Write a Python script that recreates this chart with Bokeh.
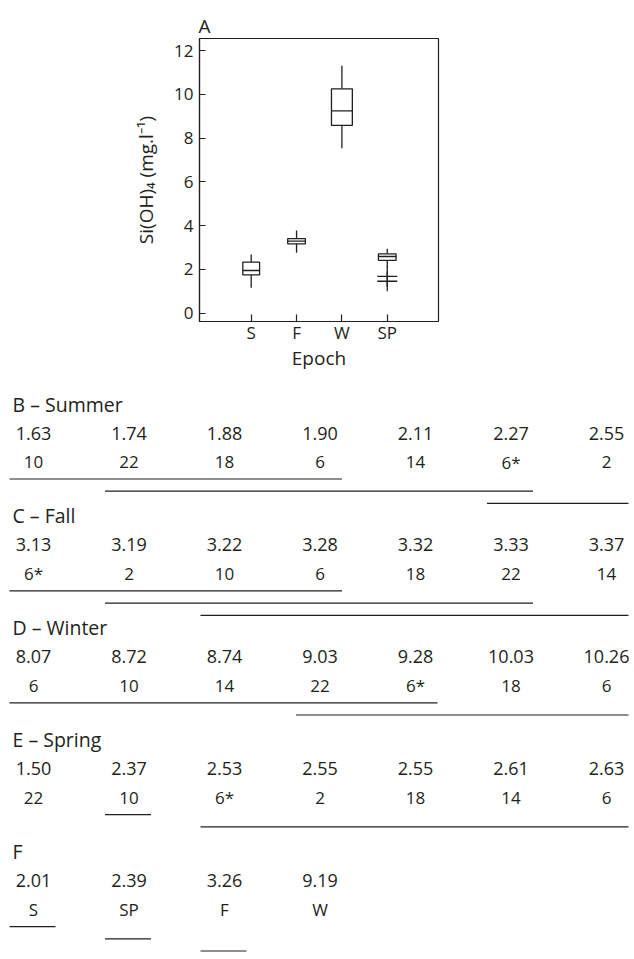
from bokeh.plotting import figure
from bokeh.models import Range1d, FixedTicker, ColumnDataSource
from bokeh.embed import file_html
from bokeh.resources import INLINE
from bokeh.core.properties import value

# ---------------- data ----------------
EPOCHS = ["S", "F", "W", "SP"]
WHISKER_LOW = [1.16, 2.76, 7.53, 2.10]
Q1 = [1.75, 3.17, 8.58, 2.41]
MEDIAN = [1.95, 3.29, 9.24, 2.59]
Q3 = [2.33, 3.41, 10.25, 2.71]
WHISKER_HIGH = [2.68, 3.78, 11.30, 2.94]
OUTLIER_EPOCH = ["SP", "SP"]
OUTLIER_VALUE = [1.68, 1.46]
Y_TICKS = [0, 2, 4, 6, 8, 10, 12]

SUMMER_MEANS = [1.63, 1.74, 1.88, 1.90, 2.11, 2.27, 2.55]
SUMMER_SITES = ["10", "22", "18", "6", "14", "6*", "2"]
SUMMER_GROUPS = [(0, 3), (1, 5), (5, 6)]

FALL_MEANS = [3.13, 3.19, 3.22, 3.28, 3.32, 3.33, 3.37]
FALL_SITES = ["6*", "2", "10", "6", "18", "22", "14"]
FALL_GROUPS = [(0, 3), (1, 5), (2, 6)]

WINTER_MEANS = [8.07, 8.72, 8.74, 9.03, 9.28, 10.03, 10.26]
WINTER_SITES = ["6", "10", "14", "22", "6*", "18", "6"]
WINTER_GROUPS = [(0, 4), (3, 6)]

SPRING_MEANS = [1.50, 2.37, 2.53, 2.55, 2.55, 2.61, 2.63]
SPRING_SITES = ["22", "10", "6*", "2", "18", "14", "6"]
SPRING_GROUPS = [(1, 1), (2, 6)]

EPOCH_MEANS = [2.01, 2.39, 3.26, 9.19]
EPOCH_ORDER = ["S", "SP", "F", "W"]
EPOCH_GROUPS = [(0, 0), (1, 1), (2, 2)]

SECTIONS = [
    ("B \u2013 Summer", SUMMER_MEANS, SUMMER_SITES, SUMMER_GROUPS),
    ("C \u2013 Fall", FALL_MEANS, FALL_SITES, FALL_GROUPS),
    ("D \u2013 Winter", WINTER_MEANS, WINTER_SITES, WINTER_GROUPS),
    ("E \u2013 Spring", SPRING_MEANS, SPRING_SITES, SPRING_GROUPS),
    ("F", EPOCH_MEANS, EPOCH_ORDER, EPOCH_GROUPS),
]

# ---------------- style ----------------
FONT = "Open Sans"
INK = "#231f20"
box_widths = [0.37, 0.39, 0.46, 0.39]
PAGE_W = 634
TOP_H = 388
BOTTOM_H = 570

# ---------------- panel A: box plot ----------------
xs = list(range(1, len(EPOCHS) + 1))
p = figure(width=PAGE_W, height=TOP_H,
           x_range=Range1d(-0.14, 5.13), y_range=Range1d(-0.38, 12.55),
           output_backend="svg", toolbar_location=None,
           min_border_left=199, min_border_right=196,
           min_border_top=38, min_border_bottom=67,
           title="A")
p.title.text_font = FONT
p.title.text_font_size = "19px"
p.title.text_font_style = "normal"
p.title.text_color = INK
p.title.align = "left"
p.title.standoff = 0
p.title.offset = -1

p.xgrid.visible = False
p.ygrid.visible = False
p.outline_line_color = INK
p.outline_line_width = 1.2
p.background_fill_color = "white"
p.border_fill_color = "white"

p.xaxis.ticker = FixedTicker(ticks=xs)
p.xaxis.major_label_overrides = {x: e for x, e in zip(xs, EPOCHS)}
p.yaxis.ticker = FixedTicker(ticks=Y_TICKS)
p.yaxis.axis_label = "Si(OH)\u2084 (mg.l\u207b\u00b9)"
p.xaxis.axis_label = "Epoch"
for ax in (p.xaxis[0], p.yaxis[0]):
    ax.major_tick_out = 0
    ax.minor_tick_in = 0
    ax.minor_tick_out = 0
    ax.axis_line_color = INK
    ax.axis_line_width = 1.2
    ax.major_tick_line_color = INK
    ax.major_tick_line_width = 1.2
    ax.major_label_text_font = FONT
    ax.major_label_text_font_size = "17px"
    ax.major_label_text_color = INK
    ax.axis_label_text_font = FONT
    ax.axis_label_text_font_size = "19px"
    ax.axis_label_text_font_style = "normal"
    ax.axis_label_text_color = INK
p.yaxis.major_tick_in = 6
p.xaxis.major_tick_in = 7
p.yaxis.major_label_standoff = 6
p.xaxis.major_label_standoff = -1
p.yaxis.axis_label_standoff = 12
p.xaxis.axis_label_standoff = -2

src = ColumnDataSource(dict(
    x=xs, lo=WHISKER_LOW, q1=Q1, med=MEDIAN, q3=Q3, hi=WHISKER_HIGH,
    w=box_widths,
    x0=[x - w / 2 for x, w in zip(xs, box_widths)],
    x1=[x + w / 2 for x, w in zip(xs, box_widths)],
))
p.segment(x0="x", y0="lo", x1="x", y1="q1", source=src, line_color=INK, line_width=1.3)
p.segment(x0="x", y0="q3", x1="x", y1="hi", source=src, line_color=INK, line_width=1.3)
p.vbar(x="x", width="w", bottom="q1", top="q3", source=src,
       fill_color="white", line_color=INK, line_width=1.3)
p.segment(x0="x0", y0="med", x1="x1", y1="med", source=src, line_color=INK, line_width=1.3)
out_x = [xs[EPOCHS.index(e)] for e in OUTLIER_EPOCH]
p.scatter(out_x, OUTLIER_VALUE, marker="cross", size=20, line_color=INK, line_width=1.3)

# ---------------- panels B-F: ranking tables ----------------
t = figure(width=PAGE_W, height=BOTTOM_H,
           x_range=Range1d(0, PAGE_W), y_range=Range1d(TOP_H + BOTTOM_H, TOP_H),
           output_backend="svg", toolbar_location=None,
           x_axis_location=None, y_axis_location=None, min_border=0)
t.grid.visible = False
t.outline_line_color = None

COL0, COL_STEP = 33.0, 95.5
SEC0, SEC_STEP = 403.5, 111.9     # title line position of panel B, panel spacing
titles = dict(x=[], y=[], text=[])
vals = dict(x=[], y=[], text=[])
sites = dict(x=[], y=[], text=[])
lines = dict(x0=[], x1=[], y=[])
for k, (name, means, labs, groups) in enumerate(SECTIONS):
    base = SEC0 + SEC_STEP * k
    titles["x"].append(12)
    titles["y"].append(base)
    titles["text"].append(name)
    for i, (m, s) in enumerate(zip(means, labs)):
        cx = COL0 + COL_STEP * i
        vals["x"].append(cx)
        vals["y"].append(base + 29)
        vals["text"].append(f"{m:.2f}")
        sites["x"].append(cx)
        sites["y"].append(base + 58)
        sites["text"].append(s)
    for lvl, (a, b) in enumerate(groups):
        lines["x0"].append(COL0 + COL_STEP * a - 24)
        lines["x1"].append(COL0 + COL_STEP * b + 22)
        lines["y"].append(base + 75 + 12.2 * lvl)

t.text(x="x", y="y", text="text", source=ColumnDataSource(titles),
       text_font=value(FONT), text_font_size="19.5px", text_color=INK,
       text_align="left", text_baseline="alphabetic")
t.text(x="x", y="y", text="text", source=ColumnDataSource(vals),
       text_font=value(FONT), text_font_size="18px", text_color=INK,
       text_align="center", text_baseline="alphabetic")
t.text(x="x", y="y", text="text", source=ColumnDataSource(sites),
       text_font=value(FONT), text_font_size="17px", text_color=INK,
       text_align="center", text_baseline="alphabetic")
t.segment(x0="x0", y0="y", x1="x1", y1="y", source=ColumnDataSource(lines),
          line_color=INK, line_width=1.2)

open("out.html", "w").write(file_html([p, t], INLINE))
